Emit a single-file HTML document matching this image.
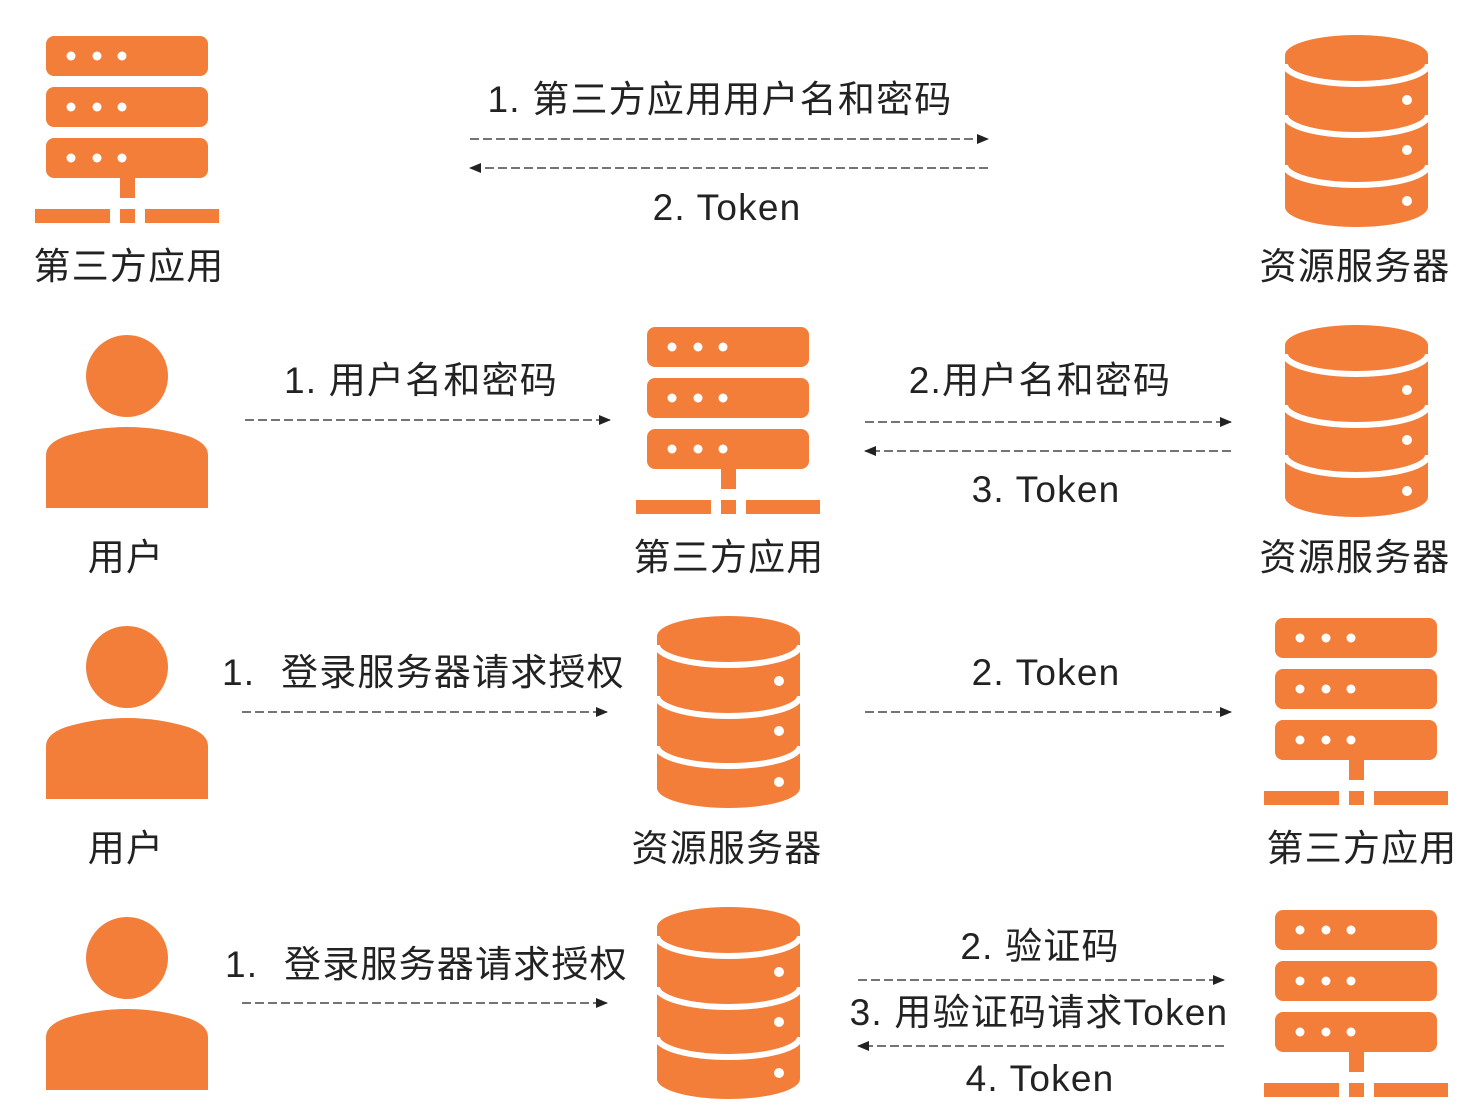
<!DOCTYPE html>
<html><head><meta charset="utf-8"><style>
html,body{margin:0;padding:0;background:#fff;}
svg{display:block;}
text{font-family:"Liberation Sans","Noto Sans CJK SC",sans-serif;fill:#222;font-size:37px;letter-spacing:1.2px;}
</style></head><body>
<svg width="1478" height="1118" viewBox="0 0 1478 1118" xmlns="http://www.w3.org/2000/svg">
<defs>
<marker id="ah" markerWidth="12" markerHeight="10" refX="11" refY="5" orient="auto" markerUnits="userSpaceOnUse">
<path d="M0,0 L12,5 L0,10 Z" fill="#222"/>
</marker>
<g id="srv" fill="#F37E3A">
<rect x="0" y="0" width="162" height="40" rx="8"/>
<rect x="0" y="51" width="162" height="40" rx="8"/>
<rect x="0" y="102" width="162" height="40" rx="8"/>
<g fill="#fff"><circle cx="25" cy="20" r="4.5"/><circle cx="51" cy="20" r="4.5"/><circle cx="76" cy="20" r="4.5"/>
<circle cx="25" cy="71" r="4.5"/><circle cx="51" cy="71" r="4.5"/><circle cx="76" cy="71" r="4.5"/>
<circle cx="25" cy="122" r="4.5"/><circle cx="51" cy="122" r="4.5"/><circle cx="76" cy="122" r="4.5"/></g>
<rect x="74" y="142" width="15" height="20"/>
<rect x="-11" y="173" width="75" height="14"/>
<rect x="74" y="173" width="15" height="14"/>
<rect x="99" y="173" width="74" height="14"/>
</g>
<g id="db">
<path d="M0,20 A71.5,20 0 0 1 143,20 V172 A71.5,20 0 0 1 0,172 Z" fill="#F37E3A"/>
<g fill="none" stroke="#fff" stroke-width="6">
<path d="M0,29 A71.5,20 0 0 0 143,29"/>
<path d="M0,80 A71.5,20 0 0 0 143,80"/>
<path d="M0,130 A71.5,20 0 0 0 143,130"/>
</g>
<g fill="#fff"><circle cx="122" cy="65" r="5"/><circle cx="122" cy="115" r="5"/><circle cx="122" cy="166" r="5"/></g>
</g>
<g id="usr" fill="#F37E3A">
<circle cx="81" cy="41" r="41"/>
<path d="M0,173 V120 Q0,108 20,101 Q50,92 81,92 Q112,92 142,101 Q162,108 162,120 V173 Z"/>
</g>
</defs>

<g stroke="#222" stroke-width="1.3" stroke-dasharray="9 4" fill="none">
<line x1="470" y1="139" x2="988" y2="139" marker-end="url(#ah)"/>
<line x1="988" y1="168" x2="470" y2="168" marker-end="url(#ah)"/>
<line x1="245" y1="420" x2="610" y2="420" marker-end="url(#ah)"/>
<line x1="865" y1="422" x2="1231" y2="422" marker-end="url(#ah)"/>
<line x1="1231" y1="451" x2="865" y2="451" marker-end="url(#ah)"/>
<line x1="242" y1="712" x2="607" y2="712" marker-end="url(#ah)"/>
<line x1="865" y1="712" x2="1231" y2="712" marker-end="url(#ah)"/>
<line x1="242" y1="1003" x2="607" y2="1003" marker-end="url(#ah)"/>
<line x1="858" y1="980" x2="1224" y2="980" marker-end="url(#ah)"/>
<line x1="1224" y1="1046" x2="858" y2="1046" marker-end="url(#ah)"/>
</g>

<use href="#srv" x="46" y="36"/>
<use href="#db" x="1285" y="35"/>
<use href="#usr" x="46" y="335"/>
<use href="#srv" x="647" y="327"/>
<use href="#db" x="1285" y="325"/>
<use href="#usr" x="46" y="626"/>
<use href="#db" x="657" y="616"/>
<use href="#srv" x="1275" y="618"/>
<use href="#usr" x="46" y="917"/>
<use href="#db" x="657" y="907"/>
<use href="#srv" x="1275" y="910"/>

<g text-anchor="middle">
<text x="720" y="112">1. 第三方应用用户名和密码</text>
<text x="727" y="220">2. Token</text>
<text x="129" y="279">第三方应用</text>
<text x="1355" y="279">资源服务器</text>
<text x="421" y="393">1. 用户名和密码</text>
<text x="1040" y="393">2.用户名和密码</text>
<text x="1046" y="502">3. Token</text>
<text x="126" y="570">用户</text>
<text x="729" y="570">第三方应用</text>
<text x="1355" y="570">资源服务器</text>
<text x="1046" y="685">2. Token</text>
<text x="126" y="861">用户</text>
<text x="727" y="861">资源服务器</text>
<text x="1362" y="861">第三方应用</text>
<text x="1040" y="959">2. 验证码</text>
<text x="1039" y="1025">3. 用验证码请求Token</text>
<text x="1040" y="1091">4. Token</text>
</g>
<text x="222" y="685">1.</text>
<text x="281" y="685">登录服务器请求授权</text>
<text x="225" y="977">1.</text>
<text x="284" y="977">登录服务器请求授权</text>
</svg>
</body></html>
